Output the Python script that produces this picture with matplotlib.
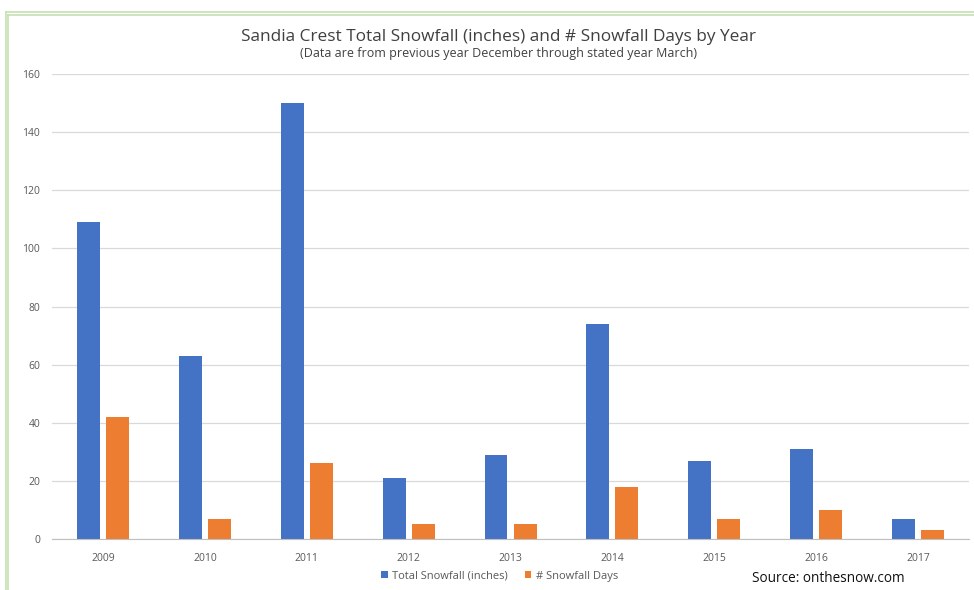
import numpy as np
import matplotlib
matplotlib.use("Agg")
import matplotlib.pyplot as plt
from matplotlib.lines import Line2D

years = ["2009", "2010", "2011", "2012", "2013", "2014", "2015", "2016", "2017"]
snowfall = [109, 63, 150, 21, 29, 74, 27, 31, 7]
snow_days = [42, 7, 26, 5, 5, 18, 7, 10, 3]

plt.rcParams['font.family'] = ['Open Sans', 'DejaVu Sans']

fig = plt.figure(figsize=(9.74, 5.9), dpi=100)
ax = fig.add_axes([0.0534, 0.0864, 0.9415, 0.7882])

x = np.arange(len(years))
w = 0.225
ax.bar(x - w / 2 - 0.03, snowfall, w, color="#4472c4", label="Total Snowfall (inches)")
ax.bar(x + w / 2 + 0.03, snow_days, w, color="#ed7d31", label="# Snowfall Days")

ax.set_xlim(-0.5, len(years) - 0.5)
ax.set_ylim(0, 160)
ax.set_yticks(range(0, 161, 20))
ax.set_xticks(x)
ax.set_xticklabels(years)
ax.grid(axis="y", color="#d9d9d9", linewidth=0.9)
ax.set_axisbelow(True)
for s in ["top", "right", "left"]:
    ax.spines[s].set_visible(False)
ax.spines["bottom"].set_color("#bfbfbf")
ax.tick_params(length=0, labelsize=7.5, colors="#595959", pad=10)
ax.tick_params(axis="y", pad=8.5)

fig.text(0.512, 0.938, "Sandia Crest Total Snowfall (inches) and # Snowfall Days by Year",
         ha="center", va="center", fontsize=12.4, color="#404040")
fig.text(0.512, 0.909, "(Data are from previous year December through stated year March)",
         ha="center", va="center", fontsize=9, color="#404040")

ax.legend(loc="center", bbox_to_anchor=(0.488, -0.08), ncol=2, frameon=False,
          fontsize=8, handlelength=0.6, handleheight=0.6, columnspacing=1.5,
          handletextpad=0.4, labelcolor="#595959")
fig.text(0.772, 0.02, "Source: onthesnow.com", ha="left", va="center", fontsize=9.8,
         color="#111111")

# green double frame on top/left
for off in (0, 0.004):
    fig.add_artist(Line2D([0.006 + off * 0.6, 1.0], [0.979 - off, 0.979 - off],
                          color="#c5e0b4", linewidth=1.2, transform=fig.transFigure))
    fig.add_artist(Line2D([0.006 + off * 0.6, 0.006 + off * 0.6], [0.0, 0.979 - off],
                          color="#c5e0b4", linewidth=1.2, transform=fig.transFigure))

fig.savefig("out.png", dpi=100)
